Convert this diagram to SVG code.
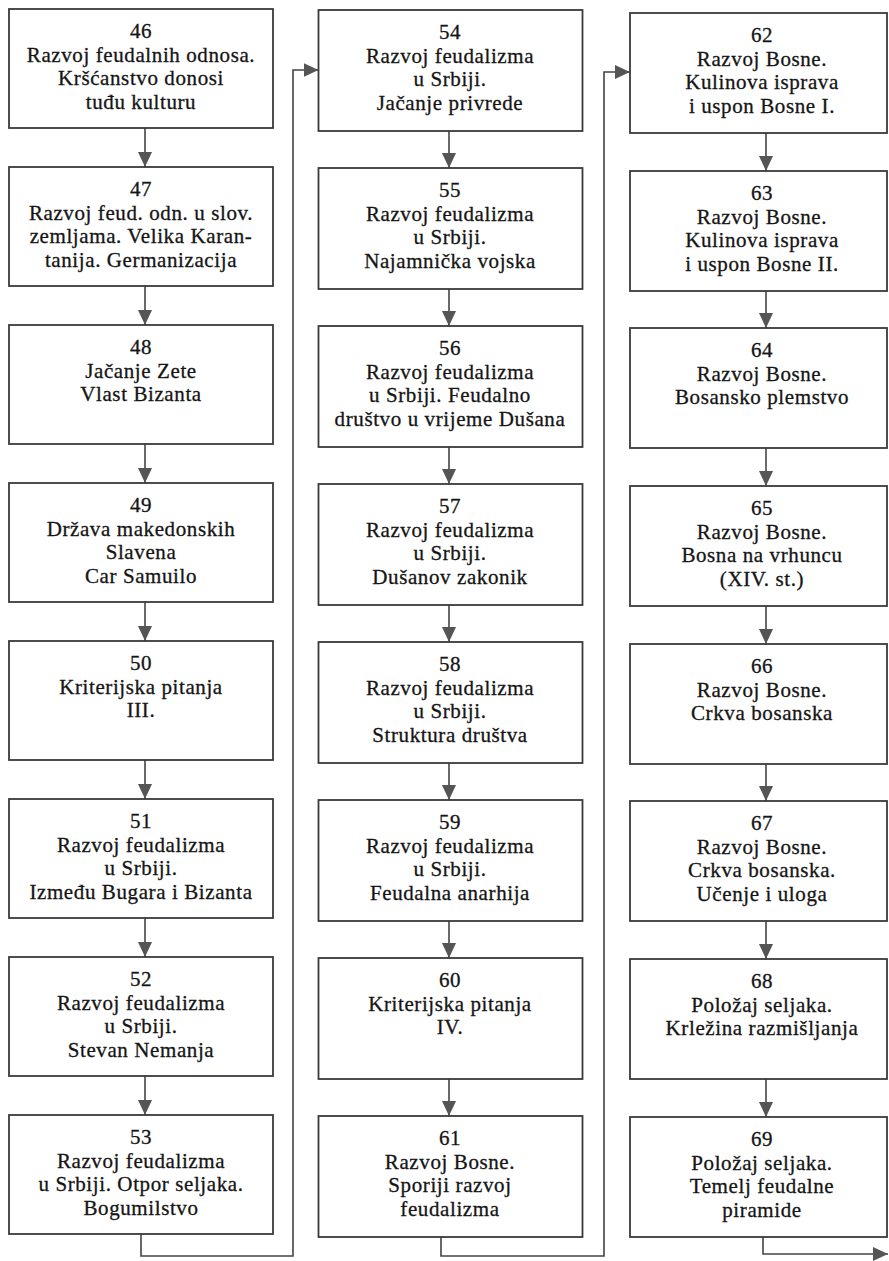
<svg xmlns="http://www.w3.org/2000/svg" width="889" height="1261" viewBox="0 0 889 1261">
  <style>
    .box { fill: #ffffff; stroke: #3a3a3a; stroke-width: 1.8; }
    .lbl { font-family: "Liberation Serif", serif; font-size: 21px; letter-spacing: 0.6px; fill: #151515; stroke: #151515; stroke-width: 0.3; text-anchor: middle; }
    .link { fill: none; stroke: #444444; stroke-width: 1.6; }
  </style>
  <defs>
    <marker id="arrow" markerUnits="userSpaceOnUse" markerWidth="16" markerHeight="14" refX="15" refY="7" orient="auto">
      <path d="M0,0 L15,7 L0,14 Z" fill="#555555"/>
    </marker>
  </defs>
  <rect width="889" height="1261" fill="#ffffff"/>

  <!-- connectors -->
  <g id="connectors" class="link">
    <!-- column 1 -->
    <path d="M145,128 V167" marker-end="url(#arrow)"/>
    <path d="M145,286 V325" marker-end="url(#arrow)"/>
    <path d="M145,444 V483" marker-end="url(#arrow)"/>
    <path d="M145,602 V641" marker-end="url(#arrow)"/>
    <path d="M145,760 V799" marker-end="url(#arrow)"/>
    <path d="M145,918 V957" marker-end="url(#arrow)"/>
    <path d="M145,1076 V1115" marker-end="url(#arrow)"/>
    <!-- column 1 to column 2 -->
    <path d="M141,1234 V1256 H293 V70 H318.5" marker-end="url(#arrow)"/>
    <!-- column 2 -->
    <path d="M449,131 V168" marker-end="url(#arrow)"/>
    <path d="M449,289 V326" marker-end="url(#arrow)"/>
    <path d="M449,447 V484" marker-end="url(#arrow)"/>
    <path d="M449,605 V642" marker-end="url(#arrow)"/>
    <path d="M449,763 V800" marker-end="url(#arrow)"/>
    <path d="M449,921 V958" marker-end="url(#arrow)"/>
    <path d="M449,1079 V1116" marker-end="url(#arrow)"/>
    <!-- column 2 to column 3 -->
    <path d="M441,1237 V1256 H604 V72 H630" marker-end="url(#arrow)"/>
    <!-- column 3 -->
    <path d="M766,133 V171" marker-end="url(#arrow)"/>
    <path d="M766,291 V328" marker-end="url(#arrow)"/>
    <path d="M766,448 V486" marker-end="url(#arrow)"/>
    <path d="M766,606 V644" marker-end="url(#arrow)"/>
    <path d="M766,764 V801" marker-end="url(#arrow)"/>
    <path d="M766,921 V959" marker-end="url(#arrow)"/>
    <path d="M766,1079 V1117" marker-end="url(#arrow)"/>
    <!-- exit -->
    <path d="M763,1237 V1254 H888" marker-end="url(#arrow)"/>
  </g>

  <!-- column 1 -->
  <g id="n46"><rect class="box" x="9" y="9" width="264" height="119"/>
    <text class="lbl" x="141" y="38">46</text>
    <text class="lbl" x="141" y="61.5">Razvoj feudalnih odnosa.</text>
    <text class="lbl" x="141" y="85">Kršćanstvo donosi</text>
    <text class="lbl" x="141" y="108.5">tuđu kulturu</text></g>
  <g id="n47"><rect class="box" x="9" y="167" width="264" height="119"/>
    <text class="lbl" x="141" y="196">47</text>
    <text class="lbl" x="141" y="219.5">Razvoj feud. odn. u slov.</text>
    <text class="lbl" x="141" y="243">zemljama. Velika Karan-</text>
    <text class="lbl" x="141" y="266.5">tanija. Germanizacija</text></g>
  <g id="n48"><rect class="box" x="9" y="325" width="264" height="119"/>
    <text class="lbl" x="141" y="354">48</text>
    <text class="lbl" x="141" y="377.5">Jačanje Zete</text>
    <text class="lbl" x="141" y="401">Vlast Bizanta</text></g>
  <g id="n49"><rect class="box" x="9" y="483" width="264" height="119"/>
    <text class="lbl" x="141" y="512">49</text>
    <text class="lbl" x="141" y="535.5">Država makedonskih</text>
    <text class="lbl" x="141" y="559">Slavena</text>
    <text class="lbl" x="141" y="582.5">Car Samuilo</text></g>
  <g id="n50"><rect class="box" x="9" y="641" width="264" height="119"/>
    <text class="lbl" x="141" y="670">50</text>
    <text class="lbl" x="141" y="693.5">Kriterijska pitanja</text>
    <text class="lbl" x="141" y="717">III.</text></g>
  <g id="n51"><rect class="box" x="9" y="799" width="264" height="119"/>
    <text class="lbl" x="141" y="828">51</text>
    <text class="lbl" x="141" y="851.5">Razvoj feudalizma</text>
    <text class="lbl" x="141" y="875">u Srbiji.</text>
    <text class="lbl" x="141" y="898.5">Između Bugara i Bizanta</text></g>
  <g id="n52"><rect class="box" x="9" y="957" width="264" height="119"/>
    <text class="lbl" x="141" y="986">52</text>
    <text class="lbl" x="141" y="1009.5">Razvoj feudalizma</text>
    <text class="lbl" x="141" y="1033">u Srbiji.</text>
    <text class="lbl" x="141" y="1056.5">Stevan Nemanja</text></g>
  <g id="n53"><rect class="box" x="9" y="1115" width="264" height="119"/>
    <text class="lbl" x="141" y="1144">53</text>
    <text class="lbl" x="141" y="1167.5">Razvoj feudalizma</text>
    <text class="lbl" x="141" y="1191">u Srbiji. Otpor seljaka.</text>
    <text class="lbl" x="141" y="1214.5">Bogumilstvo</text></g>

  <!-- column 2 -->
  <g id="n54"><rect class="box" x="318.5" y="10" width="264" height="121"/>
    <text class="lbl" x="450" y="39">54</text>
    <text class="lbl" x="450" y="62.5">Razvoj feudalizma</text>
    <text class="lbl" x="450" y="86">u Srbiji.</text>
    <text class="lbl" x="450" y="109.5">Jačanje privrede</text></g>
  <g id="n55"><rect class="box" x="318.5" y="168" width="264" height="121"/>
    <text class="lbl" x="450" y="197">55</text>
    <text class="lbl" x="450" y="220.5">Razvoj feudalizma</text>
    <text class="lbl" x="450" y="244">u Srbiji.</text>
    <text class="lbl" x="450" y="267.5">Najamnička vojska</text></g>
  <g id="n56"><rect class="box" x="318.5" y="326" width="264" height="121"/>
    <text class="lbl" x="450" y="355">56</text>
    <text class="lbl" x="450" y="378.5">Razvoj feudalizma</text>
    <text class="lbl" x="450" y="402">u Srbiji. Feudalno</text>
    <text class="lbl" x="450" y="425.5">društvo u vrijeme Dušana</text></g>
  <g id="n57"><rect class="box" x="318.5" y="484" width="264" height="121"/>
    <text class="lbl" x="450" y="513">57</text>
    <text class="lbl" x="450" y="536.5">Razvoj feudalizma</text>
    <text class="lbl" x="450" y="560">u Srbiji.</text>
    <text class="lbl" x="450" y="583.5">Dušanov zakonik</text></g>
  <g id="n58"><rect class="box" x="318.5" y="642" width="264" height="121"/>
    <text class="lbl" x="450" y="671">58</text>
    <text class="lbl" x="450" y="694.5">Razvoj feudalizma</text>
    <text class="lbl" x="450" y="718">u Srbiji.</text>
    <text class="lbl" x="450" y="741.5">Struktura društva</text></g>
  <g id="n59"><rect class="box" x="318.5" y="800" width="264" height="121"/>
    <text class="lbl" x="450" y="829">59</text>
    <text class="lbl" x="450" y="852.5">Razvoj feudalizma</text>
    <text class="lbl" x="450" y="876">u Srbiji.</text>
    <text class="lbl" x="450" y="899.5">Feudalna anarhija</text></g>
  <g id="n60"><rect class="box" x="318.5" y="958" width="264" height="121"/>
    <text class="lbl" x="450" y="987">60</text>
    <text class="lbl" x="450" y="1010.5">Kriterijska pitanja</text>
    <text class="lbl" x="450" y="1034">IV.</text></g>
  <g id="n61"><rect class="box" x="318.5" y="1116" width="264" height="121"/>
    <text class="lbl" x="450" y="1145">61</text>
    <text class="lbl" x="450" y="1168.5">Razvoj Bosne.</text>
    <text class="lbl" x="450" y="1192">Sporiji razvoj</text>
    <text class="lbl" x="450" y="1215.5">feudalizma</text></g>

  <!-- column 3 -->
  <g id="n62"><rect class="box" x="630" y="13" width="257" height="120"/>
    <text class="lbl" x="762" y="42">62</text>
    <text class="lbl" x="762" y="65.5">Razvoj Bosne.</text>
    <text class="lbl" x="762" y="89">Kulinova isprava</text>
    <text class="lbl" x="762" y="112.5">i uspon Bosne I.</text></g>
  <g id="n63"><rect class="box" x="630" y="171" width="257" height="120"/>
    <text class="lbl" x="762" y="200">63</text>
    <text class="lbl" x="762" y="223.5">Razvoj Bosne.</text>
    <text class="lbl" x="762" y="247">Kulinova isprava</text>
    <text class="lbl" x="762" y="270.5">i uspon Bosne II.</text></g>
  <g id="n64"><rect class="box" x="630" y="328" width="257" height="120"/>
    <text class="lbl" x="762" y="357">64</text>
    <text class="lbl" x="762" y="380.5">Razvoj Bosne.</text>
    <text class="lbl" x="762" y="404">Bosansko plemstvo</text></g>
  <g id="n65"><rect class="box" x="630" y="486" width="257" height="120"/>
    <text class="lbl" x="762" y="515">65</text>
    <text class="lbl" x="762" y="538.5">Razvoj Bosne.</text>
    <text class="lbl" x="762" y="562">Bosna na vrhuncu</text>
    <text class="lbl" x="762" y="585.5">(XIV. st.)</text></g>
  <g id="n66"><rect class="box" x="630" y="644" width="257" height="120"/>
    <text class="lbl" x="762" y="673">66</text>
    <text class="lbl" x="762" y="696.5">Razvoj Bosne.</text>
    <text class="lbl" x="762" y="720">Crkva bosanska</text></g>
  <g id="n67"><rect class="box" x="630" y="801" width="257" height="120"/>
    <text class="lbl" x="762" y="830">67</text>
    <text class="lbl" x="762" y="853.5">Razvoj Bosne.</text>
    <text class="lbl" x="762" y="877">Crkva bosanska.</text>
    <text class="lbl" x="762" y="900.5">Učenje i uloga</text></g>
  <g id="n68"><rect class="box" x="630" y="959" width="257" height="120"/>
    <text class="lbl" x="762" y="988">68</text>
    <text class="lbl" x="762" y="1011.5">Položaj seljaka.</text>
    <text class="lbl" x="762" y="1035">Krležina razmišljanja</text></g>
  <g id="n69"><rect class="box" x="630" y="1117" width="257" height="120"/>
    <text class="lbl" x="762" y="1146">69</text>
    <text class="lbl" x="762" y="1169.5">Položaj seljaka.</text>
    <text class="lbl" x="762" y="1193">Temelj feudalne</text>
    <text class="lbl" x="762" y="1216.5">piramide</text></g>
</svg>
